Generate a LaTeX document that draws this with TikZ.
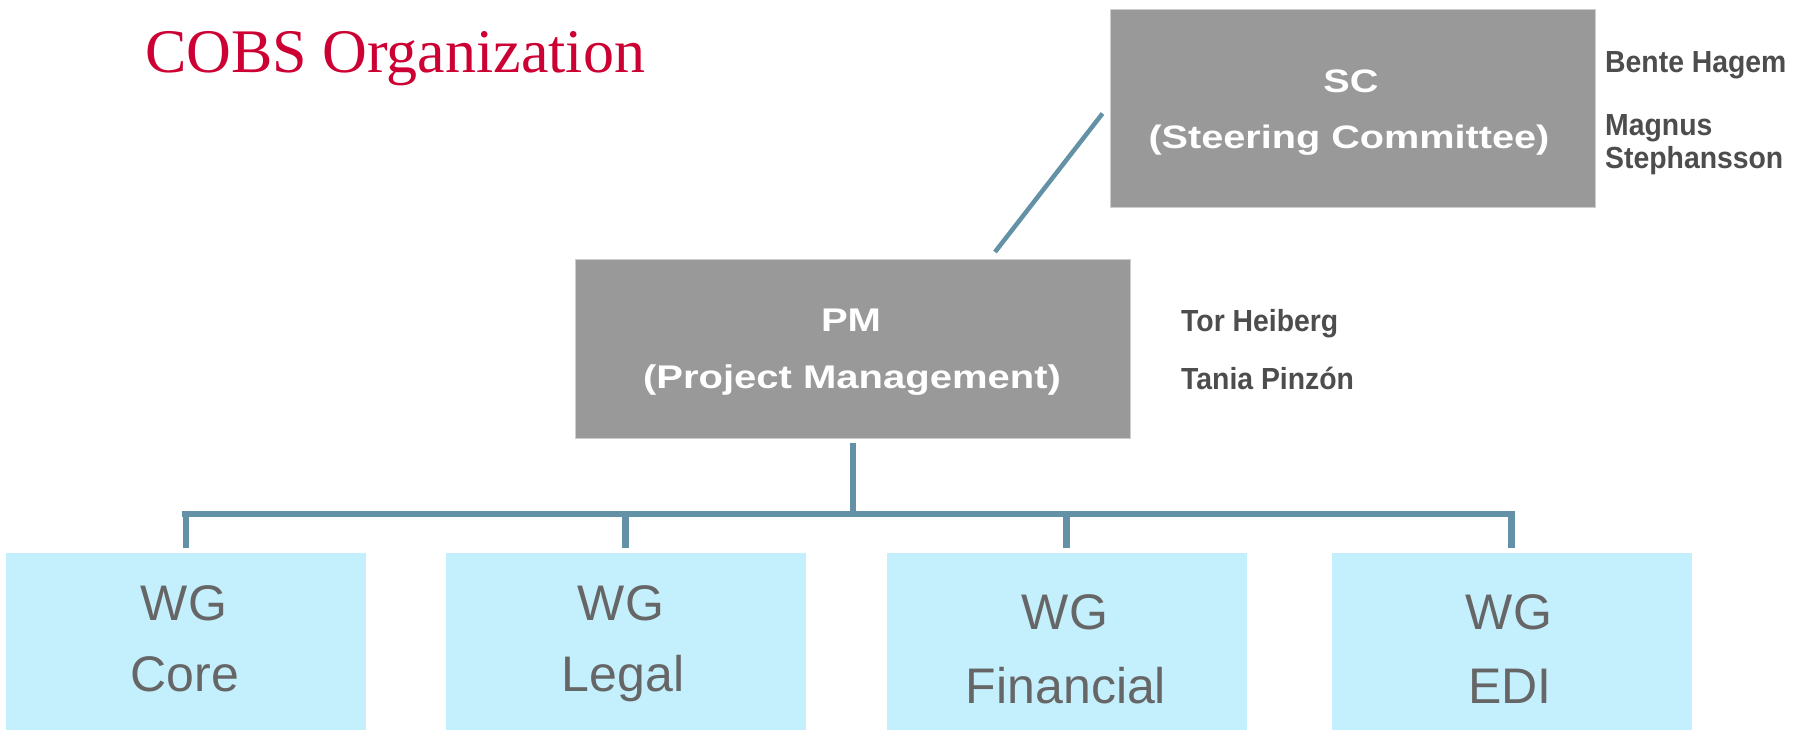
\documentclass[tikz,border=0pt]{standalone}
\usepackage{fontspec}
\usetikzlibrary{calc}
\newfontfamily\titlefont{Liberation Serif}
\newfontfamily\hdfont[FakeStretch=1.22]{Liberation Sans}
\newfontfamily\namefont[FakeStretch=0.93]{Liberation Sans}
\newfontfamily\wgfont{Liberation Sans}
\definecolor{cobsred}{RGB}{204,0,51}
\definecolor{boxgray}{RGB}{153,153,153}
\definecolor{boxedge}{RGB}{205,205,205}
\definecolor{wgfill}{RGB}{196,239,253}
\definecolor{conncol}{RGB}{99,145,165}
\definecolor{namecol}{RGB}{77,77,77}
\definecolor{wgtext}{RGB}{102,102,102}
\begin{document}
\begin{tikzpicture}[x=1pt,y=-1pt,
  graybox/.style={rectangle, fill=boxgray, draw=boxedge, line width=1pt, inner sep=0pt},
  wgbox/.style={rectangle, fill=wgfill, inner sep=0pt, minimum width=360pt, minimum height=177pt},
  schd/.style={anchor=base, inner sep=0pt, text=white, font=\hdfont\bfseries\fontsize{32.5}{33}\selectfont},
  pmhd/.style={anchor=base, inner sep=0pt, text=white, font=\hdfont\bfseries\fontsize{32.8}{34}\selectfont},
  person/.style={anchor=base west, inner sep=0pt, text=namecol, font=\namefont\bfseries\fontsize{30.5}{31}\selectfont},
  wgtxt/.style={anchor=base, inner sep=0pt, text=wgtext, font=\wgfont\fontsize{50}{50}\selectfont},
  conn/.style={draw=conncol, line cap=butt}]
\useasboundingbox (0,0) rectangle (1795,729);
\fill[white] (0,0) rectangle (1795,729);

% title
\node[anchor=base west, inner sep=0pt, text=cobsred, font=\titlefont\fontsize{62}{62}\selectfont] (title) at (145,72) {COBS Organization};

% gray boxes
\node[graybox, minimum width=485pt, minimum height=198pt] (sc) at (1352.5,108.5) {};
\node[graybox, minimum width=555pt, minimum height=179pt] (pm) at (852.5,349) {};

\node[schd] (scA) at (1351,92) {SC};
\node[schd] (scB) at (1349,148) {(Steering Committee)};
\node[pmhd] (pmA) at (851,331) {PM};
\node[pmhd] (pmB) at (852,388) {(Project Management)};

% people
\node[person] (p1) at (1605,72) {Bente Hagem};
\node[person] (p2) at (1605,135) {Magnus};
\node[person] (p3) at (1605,168) {Stephansson};
\node[person] (p4) at (1181,331) {Tor Heiberg};
\node[person] (p5) at (1181,389) {Tania Pinzón};

% working groups
\node[wgbox] (wg1) at (186,641.5) {};
\node[wgbox] (wg2) at (625.5,641.5) {};
\node[wgbox] (wg3) at (1066.5,641.5) {};
\node[wgbox] (wg4) at (1511.5,641.5) {};

\node[wgtxt] (w1a) at (184,620) {WG};
\node[wgtxt] (w1b) at (185,691) {Core};
\node[wgtxt] (w2a) at (621,620) {WG};
\node[wgtxt] (w2b) at (623,691) {Legal};
\node[wgtxt] (w3a) at (1065,629) {WG};
\node[wgtxt] (w3b) at (1066,703) {Financial};
\node[wgtxt] (w4a) at (1509,629) {WG};
\node[wgtxt] (w4b) at (1510,703) {EDI};

% connectors
\draw[conn, line width=4.5pt] ($(pm.north)+(142.5,-7)$) -- ($(sc.west)+(-7,5)$);

\coordinate (bar) at (0,514);
\coordinate (barL) at (182,514);
\coordinate (barR) at (1515,514);
\draw[conn, line width=6pt] ($(pm.south)+(0,3.5)$) -- (pm.south |- bar);
\draw[conn, line width=6.5pt] (barL) -- (barR);
\foreach \w in {wg1,wg2,wg3,wg4}
  \draw[conn, line width=6.5pt] (\w.north |- bar) -- ($(\w.north)+(0,-5)$);
\end{tikzpicture}
\end{document}
